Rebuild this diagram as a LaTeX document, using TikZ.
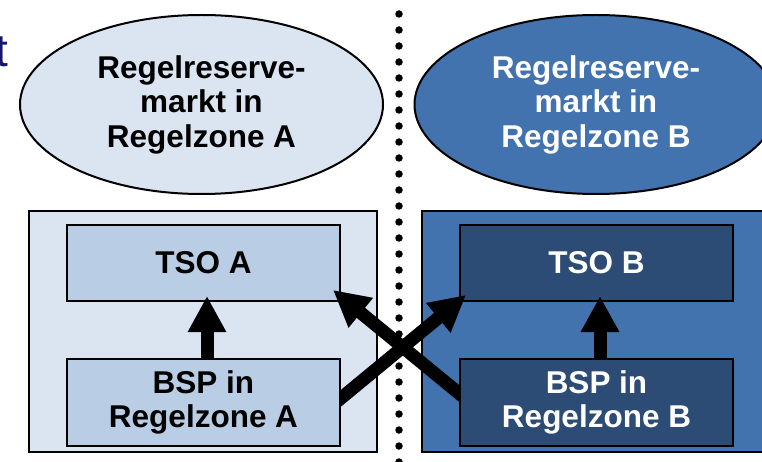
\documentclass[tikz,border=0pt]{standalone}
\usepackage{fontspec}
\setmainfont{Liberation Sans}
\usetikzlibrary{shapes.geometric,arrows.meta,calc}
\definecolor{lightA}{HTML}{DBE5F1}
\definecolor{midA}{HTML}{B9CDE5}
\definecolor{blueB}{HTML}{4273AF}
\definecolor{darkB}{HTML}{2C4C75}
\definecolor{navyT}{HTML}{16166E}
\tikzset{
  lbl/.style={font=\bfseries\fontsize{31.5}{34.5}\selectfont, align=center},
  ell/.style={ellipse, draw=black, line width=2pt, inner sep=0pt, minimum width=363pt, minimum height=179pt, lbl},
  outer/.style={draw=black, line width=2.5pt, minimum height=241pt, inner sep=0pt},
  inner/.style={draw=black, line width=2pt, minimum width=273pt, inner sep=0pt, lbl},
  bigarrow/.style={line width=13pt, -{Triangle[length=36pt,width=36pt]}},
  dotline/.style={line width=7.5pt, line cap=round, dash pattern=on 0pt off 16pt}
}
\begin{document}
\begin{tikzpicture}[x=1pt,y=-1pt]
\useasboundingbox (0,0) rectangle (762,462);
\fill[white] (0,0) rectangle (762,462);
% title fragment
\node[anchor=base east, inner sep=0pt, text=navyT, font=\fontsize{46}{50}\selectfont] (title) at (8.5,67) {t};
% separator
\coordinate (sepTop) at (399,14);
\coordinate (sepBot) at (399,470);
\draw[dotline] (sepTop) -- (sepBot);
% markets
\node[ell, fill=lightA] (mA) at (201.5,104.5) {Regelreserve-\\markt in\\Regelzone A};
\node[ell, fill=blueB, text=white] (mB) at (596,104.5) {Regelreserve-\\markt in\\Regelzone B};
% zones
\node[outer, fill=lightA, minimum width=348pt] (zA) at (203,331.5) {};
\node[outer, fill=blueB, minimum width=368pt] (zB) at (606,331.5) {};
% TSOs
\node[inner, fill=midA, minimum height=76pt] (tsoA) at (203.5,263) {TSO A};
\node[inner, fill=darkB, minimum height=76pt, text=white] (tsoB) at (596.5,263) {TSO B};
% BSP positions (for arrows)
\coordinate (bspAc) at (203.5,402.5);
\coordinate (bspBc) at (596.5,402.5);
% arrows
\draw[bigarrow] ($(bspAc)+(3.5,-43.5)$) -- ($(tsoA.south)+(3.5,-6)$);
\draw[bigarrow] ($(bspBc)+(3.5,-43.5)$) -- ($(tsoB.south)+(3.5,-6)$);
\draw[bigarrow] ($(bspAc)+(125,6)$) -- ($(tsoB.south west)+(7,-7)$);
\draw[bigarrow] ($(bspBc)+(-124.5,1.5)$) -- ($(tsoA.south east)+(-8,-12)$);
% BSPs
\node[inner, fill=midA, minimum height=87pt] (bspA) at (bspAc) {BSP in\\Regelzone A};
\node[inner, fill=darkB, minimum height=87pt, text=white] (bspB) at (bspBc) {BSP in\\Regelzone B};
\end{tikzpicture}
\end{document}
